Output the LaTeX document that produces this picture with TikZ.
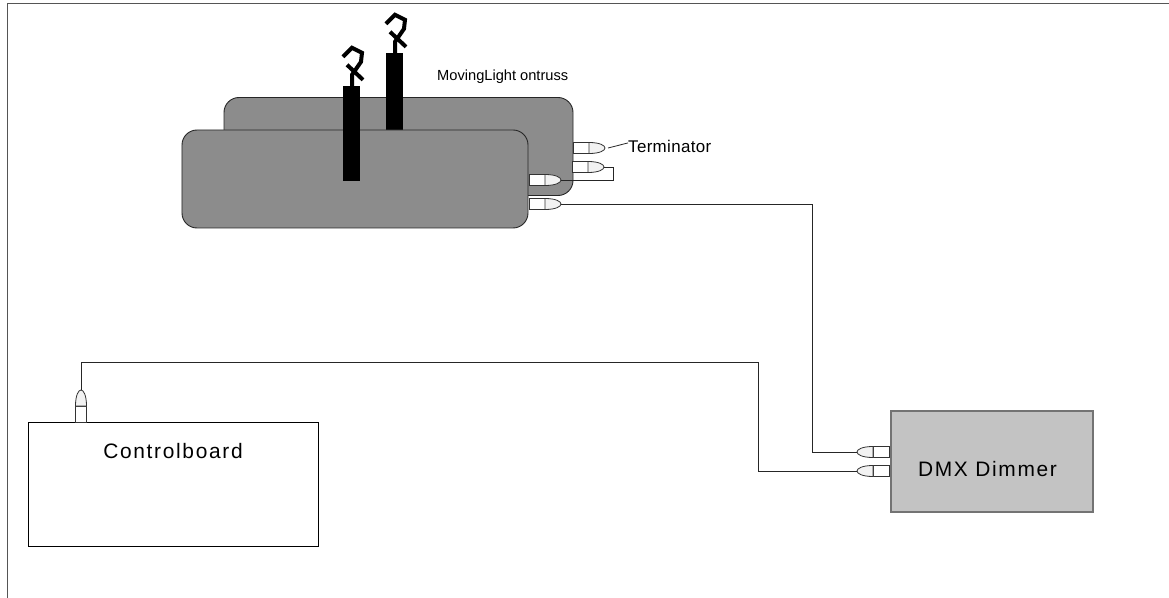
\documentclass[tikz,border=0pt]{standalone}
\usepackage{fontspec}
\setmainfont{Liberation Sans}
\usetikzlibrary{positioning}

\definecolor{lampgray}{HTML}{8C8C8C}
\definecolor{dimmergray}{HTML}{C3C3C3}
\definecolor{plugtip}{HTML}{F2F2F2}
\definecolor{framegray}{HTML}{555555}

\tikzset{
  plug/.pic={
    \draw[plugline, fill=white] (0,-5.5) rectangle (16,5.5);
    \draw[plugline, fill=plugtip] (16,-5.5) .. controls (27,-5.5) and (32,-2.5) .. (32,0)
      .. controls (32,2.5) and (27,5.5) .. (16,5.5) -- cycle;
    \coordinate (-tip) at (32,0);
  },
  hook/.pic={
    \draw[hookline] (-8.5,-29) -- (0.5,-38) -- (10.5,-33) -- (9.5,-24) -- (0.5,-11) -- (0.5,0);
    \draw[hookline] (-4.5,-21) -- (11.5,-6);
  }
}

\begin{document}
\begin{tikzpicture}[x=1bp,y=-1bp,
  lamp/.style={draw=black!85,fill=lampgray,rounded corners=15bp,line width=0.9bp,
    inner sep=0pt,minimum height=98bp},
  bar/.style={fill=black,inner sep=0pt,minimum width=17bp},
  hookline/.style={line width=4bp,black},
  plugline/.style={draw=black!80,line width=0.8bp},
  wire/.style={draw=black!85,line width=0.8bp},
  board/.style={draw=black,fill=white,line width=0.9bp,inner sep=0pt,
    minimum width=290bp,minimum height=124bp},
  dimmer/.style={draw=black!55,fill=dimmergray,line width=1.2bp,inner sep=0pt,
    minimum width=202bp,minimum height=101bp},
  boxtext/.style={inner sep=0pt,font=\fontsize{21}{25}\selectfont\addfontfeatures{LetterSpace=8}},
  lbl/.style={inner sep=0pt}]
\useasboundingbox (0,0) rectangle (1169,598);

% frame
\draw[framegray,line width=1.5bp] (7.5,598) -- (7.5,3.5) -- (1169,3.5);

% moving lights
\node[lamp,minimum width=349bp] (back) at (398.5,146.5) {};
\node[bar,minimum height=77bp] (bar2) at (394.5,91.5) {};
\pic at (bar2.north) {hook};
\pic (bA) at (573,148) {plug};
\pic (bB) at (572,167) {plug};
\node[lamp,minimum width=346bp] (front) at (355,179) {};
\node[bar,minimum height=95bp] (bar1) at (351.5,133.5) {};
\pic at (bar1.north) {hook};
\pic (fA) at (529,180) {plug};
\pic (fB) at (529,204) {plug};

\node[lbl,anchor=base west,font=\fontsize{14.7}{17}\selectfont] (title) at (437,81) {MovingLight ontruss};
\node[lbl,anchor=base west,font=\fontsize{17}{20}\selectfont\addfontfeatures{LetterSpace=2}] (term) at (628,153) {Terminator};

% control board and dimmer
\node[board] (board) at (173,484) {};
\node[boxtext,below=22bp of board.north] (boardtext) {Controlboard};
\pic[rotate=90] (cP) at (81,422) {plug};

\node[dimmer] (dmx) at (992,461.5) {};
\node[boxtext,below=51bp of dmx.north,xshift=-4.5bp] (dmxtext) {DMX Dimmer};
\pic[rotate=180] (dA) at (889,452) {plug};
\pic[rotate=180] (dB) at (889,471) {plug};

% cables
\draw[wire] (bB-tip) -- ++(9,0) |- (fA-tip);
\draw[wire] (fB-tip) -| (812,452) -- (dA-tip);
\draw[wire] (cP-tip) |- (758,362) |- (dB-tip);
\draw[wire] ([xshift=3bp]bA-tip) -- ([yshift=4bp]term.west);
\end{tikzpicture}
\end{document}
